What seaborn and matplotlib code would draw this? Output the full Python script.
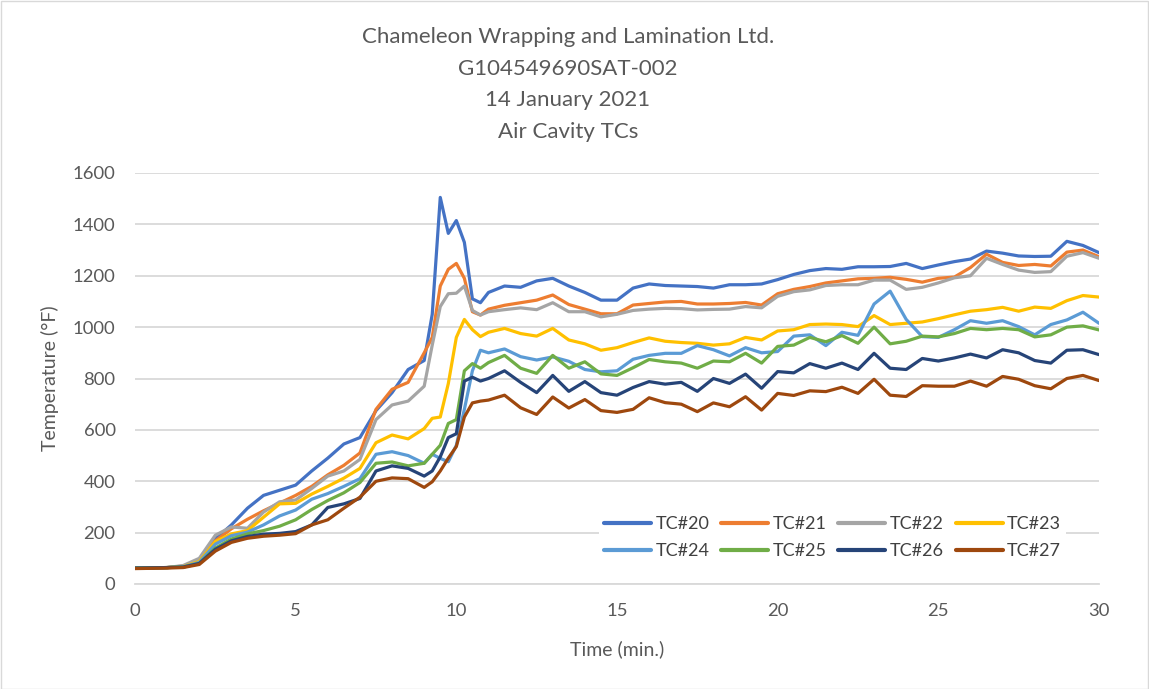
import numpy as np
import pandas as pd
import matplotlib
matplotlib.use("Agg")
import matplotlib.pyplot as plt
from matplotlib.patches import Rectangle
import seaborn as sns

# ---------------- data ----------------
time_min = [0, 0.5, 1, 1.5, 2, 2.5, 3, 3.5, 4, 4.5, 5, 5.5, 6, 6.5, 7, 7.5, 8, 8.5, 9,
            9.25, 9.5, 9.75, 10, 10.25, 10.5, 10.75, 11,
            11.5, 12, 12.5, 13, 13.5, 14, 14.5, 15, 15.5, 16, 16.5, 17, 17.5, 18, 18.5,
            19, 19.5, 20, 20.5, 21, 21.5, 22, 22.5, 23, 23.5, 24, 24.5, 25, 25.5, 26,
            26.5, 27, 27.5, 28, 28.5, 29, 29.5, 30]

tc20 = [62, 63, 64, 68, 95, 175, 230, 295, 345, 365, 385, 440, 490, 545, 570, 675, 745, 835, 870,
        1050, 1505, 1365, 1415, 1330, 1110, 1095, 1135,
        1160, 1155, 1180, 1190, 1160, 1135, 1105, 1105, 1152, 1168, 1162, 1160, 1158, 1152, 1165,
        1165, 1168, 1185, 1205, 1220, 1228, 1225, 1235, 1235, 1236, 1248, 1228, 1242, 1255, 1265,
        1296, 1288, 1277, 1275, 1276, 1334, 1318, 1290]
tc21 = [62, 63, 64, 70, 92, 168, 215, 252, 285, 315, 345, 380, 425, 462, 510, 680, 758, 785, 900,
        960, 1160, 1225, 1248, 1190, 1060, 1047, 1070,
        1085, 1095, 1105, 1125, 1088, 1070, 1052, 1052, 1086, 1092, 1098, 1100, 1090, 1090, 1092,
        1096, 1086, 1130, 1147, 1158, 1172, 1180, 1188, 1190, 1194, 1186, 1175, 1190, 1195, 1232,
        1284, 1252, 1240, 1244, 1238, 1292, 1300, 1274]
tc22 = [62, 63, 64, 72, 100, 190, 222, 217, 280, 320, 327, 372, 420, 440, 485, 640, 697, 712, 770,
        930, 1080, 1130, 1132, 1160, 1065, 1047, 1060,
        1068, 1075, 1068, 1095, 1060, 1060, 1040, 1050, 1065, 1070, 1073, 1072, 1067, 1069, 1070,
        1080, 1075, 1120, 1138, 1145, 1162, 1165, 1165, 1183, 1183, 1147, 1155, 1172, 1192, 1200,
        1268, 1244, 1222, 1213, 1216, 1276, 1290, 1268]
tc23 = [62, 63, 64, 68, 88, 165, 195, 208, 260, 312, 314, 350, 380, 412, 450, 550, 580, 565, 605,
        645, 650, 780, 960, 1030, 990, 963, 980,
        995, 975, 965, 995, 950, 935, 910, 920, 940, 958, 945, 940, 937, 930, 935,
        960, 950, 985, 990, 1010, 1012, 1010, 1002, 1045, 1010, 1015, 1020, 1033, 1048, 1062,
        1068, 1077, 1062, 1078, 1073, 1103, 1123, 1117]
tc24 = [62, 63, 64, 67, 84, 155, 188, 202, 230, 265, 288, 330, 352, 380, 410, 505, 515, 500, 470,
        505, 489, 476, 540, 680, 830, 910, 900,
        915, 885, 872, 884, 867, 835, 826, 830, 875, 890, 898, 898, 928, 912, 888,
        920, 900, 905, 965, 970, 928, 980, 968, 1090, 1140, 1030, 963, 960, 990, 1025,
        1015, 1025, 1002, 970, 1010, 1028, 1058, 1015]
tc25 = [62, 63, 64, 66, 80, 140, 175, 195, 208, 225, 250, 290, 325, 355, 395, 470, 475, 460, 470,
        505, 540, 625, 640, 830, 858, 840, 862,
        890, 840, 820, 890, 840, 865, 818, 812, 842, 874, 865, 860, 840, 868, 865,
        898, 860, 925, 930, 960, 943, 967, 937, 1000, 935, 945, 965, 962, 975, 995,
        990, 995, 990, 962, 970, 1000, 1005, 989]
tc26 = [62, 63, 64, 66, 80, 135, 168, 185, 194, 197, 204, 230, 298, 312, 333, 440, 460, 450, 420,
        440, 495, 570, 585, 790, 805, 790, 800,
        830, 785, 745, 812, 750, 788, 745, 735, 765, 788, 778, 785, 750, 800, 781,
        817, 762, 827, 822, 858, 840, 860, 835, 898, 840, 835, 878, 868, 880, 895,
        880, 912, 900, 870, 860, 910, 912, 893]
tc27 = [60, 61, 62, 64, 76, 128, 162, 178, 186, 190, 196, 230, 250, 295, 338, 400, 413, 410, 376,
        398, 440, 490, 535, 650, 705, 712, 716,
        735, 686, 660, 728, 685, 718, 675, 668, 680, 725, 706, 700, 671, 705, 690,
        729, 677, 742, 734, 752, 749, 766, 742, 797, 735, 730, 772, 770, 770, 790,
        770, 808, 797, 772, 760, 800, 812, 792]

series_names = ["TC#20", "TC#21", "TC#22", "TC#23", "TC#24", "TC#25", "TC#26", "TC#27"]
series_values = [tc20, tc21, tc22, tc23, tc24, tc25, tc26, tc27]
series_colors = ["#4472C4", "#ED7D31", "#A5A5A5", "#FFC000",
                 "#5B9BD5", "#70AD47", "#264478", "#9E480E"]

title_lines = ["Chameleon Wrapping and Lamination Ltd.", "G104549690SAT-002",
               "14 January 2021", "Air Cavity TCs"]
x_label = "Time (min.)"
y_label = "Temperature (°F)"
x_ticks = [0, 5, 10, 15, 20, 25, 30]
y_ticks = [0, 200, 400, 600, 800, 1000, 1200, 1400, 1600]

# ---------------- build long-form table ----------------
df = pd.DataFrame({
    "Time": np.tile(time_min, len(series_names)),
    "Temp": np.concatenate(series_values),
    "TC": np.repeat(series_names, len(time_min)),
})

sns.set_theme(style="white")
plt.rcParams['font.family'] = ['Lato', 'DejaVu Sans']
text_col = "#595959"

W, H = 1149, 689
fig = plt.figure(figsize=(W / 100, H / 100), dpi=100)
ax = fig.add_axes([135 / W, 1 - 584 / H, (1099 - 135) / W, (584 - 173) / H])

sns.lineplot(data=df, x="Time", y="Temp", hue="TC", hue_order=series_names,
             palette=series_colors, linewidth=2.3, ax=ax, sort=False,
             estimator=None)

ax.set_xlim(0, 30)
ax.set_ylim(0, 1600)
ax.set_xticks(x_ticks)
ax.set_yticks(y_ticks)
ax.yaxis.grid(True, color="#d9d9d9", linewidth=1.3)
ax.xaxis.grid(False)
ax.set_axisbelow(True)
for s in ["left", "top", "right"]:
    ax.spines[s].set_visible(False)
ax.spines["bottom"].set_color("#d9d9d9")
ax.spines["bottom"].set_linewidth(1.3)
ax.tick_params(axis="both", length=0, labelsize=13.3, colors=text_col)
ax.tick_params(axis="y", pad=14)
ax.tick_params(axis="x", pad=14)
ax.set_xlabel(x_label, fontsize=14, color=text_col, labelpad=15)
ax.set_ylabel(y_label, fontsize=14, color=text_col, labelpad=10)

# legend, row-wise order in 4 columns
handles, labels = ax.get_legend_handles_labels()
order = [0, 4, 1, 5, 2, 6, 3, 7]
leg = ax.legend([handles[i] for i in order], [labels[i] for i in order], ncol=4,
                loc="center", bbox_to_anchor=(0.7236, 0.113), frameon=True,
                facecolor="white", edgecolor="none", framealpha=1, fontsize=13,
                handlelength=2.6, handletextpad=0.25, columnspacing=0.65,
                labelspacing=0.6, borderpad=0.3)
for t in leg.get_texts():
    t.set_color("#404040")
for l in leg.get_lines():
    l.set_linewidth(3)

# title
fig.text(568 / W, 1 - 27 / H, "\n".join(title_lines), ha="center", va="top",
         fontsize=16, color=text_col, linespacing=1.73)

# chart border
fig.patches.append(Rectangle((0.5 / W, 0.5 / H), 1 - 1.5 / W, 1 - 1.5 / H,
                             transform=fig.transFigure, fill=False,
                             edgecolor="#d9d9d9", linewidth=1))

fig.savefig("out.png", dpi=100, facecolor="white")
